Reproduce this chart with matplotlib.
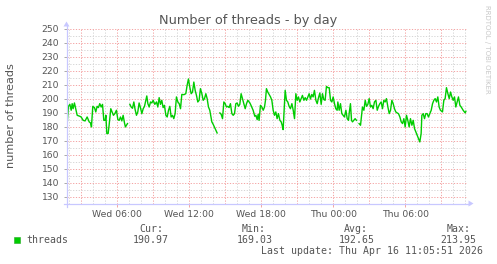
import matplotlib
matplotlib.use('Agg')
import matplotlib.pyplot as plt
from matplotlib.patches import Rectangle, Polygon
import numpy as np

# hours since Wed 00:00, 5-minute munin samples (nan = gap)
hours = [1.77, 1.93, 2.05, 2.16, 2.24, 2.32, 2.43, 2.54, 2.66, 2.88, 2.99, 3.16, 3.32, 3.49, 3.66,
         3.77, 3.85, 3.96, 4.10, 4.21, 4.32, 4.43, 4.54, 4.66, 4.77, 4.88, 4.99, 5.05, 5.13, 5.24,
         5.32, 5.46, 5.57, 5.68, 5.80, 5.93, 6.05, 6.16, 6.27, 6.38, 6.49, 6.60, 6.68, 6.85, 6.95,
         7.05, 7.16, 7.27, 7.38, 7.49, 7.60, 7.71, 7.82, 7.93, 8.05, 8.16, 8.27, 8.38, 8.46, 8.55,
         8.66, 8.77, 8.88, 8.99, 9.13, 9.27, 9.38, 9.49, 9.60, 9.71, 9.82, 9.93, 10.05, 10.16, 10.27,
         10.38, 10.49, 10.60, 10.71, 10.82, 10.93, 11.05, 11.16, 11.27, 11.38, 11.55, 11.71, 11.82, 11.93, 12.04,
         12.16, 12.27, 12.38, 12.49, 12.60, 12.71, 12.82, 12.93, 13.05, 13.16, 13.27, 13.38, 13.49, 13.60, 13.71,
         13.88, 13.99, 14.16, 14.32, 14.44, 14.55, 14.66, 14.77, 14.88, 14.99, 15.10, 15.21, 15.32, 15.43, 15.55,
         15.66, 15.77, 15.88, 15.99, 16.10, 16.21, 16.32, 16.43, 16.55, 16.66, 16.77, 16.88, 17.05, 17.18, 17.32,
         17.46, 17.55, 17.66, 17.74, 17.82, 17.93, 18.05, 18.16, 18.27, 18.35, 18.43, 18.54, 18.66, 18.77, 18.88,
         18.99, 19.10, 19.21, 19.32, 19.43, 19.55, 19.66, 19.74, 19.82, 19.93, 19.99, 20.10, 20.21, 20.32, 20.43,
         20.55, 20.66, 20.77, 20.88, 20.99, 21.10, 21.21, 21.32, 21.43, 21.55, 21.66, 21.77, 21.88, 21.99, 22.10,
         22.21, 22.32, 22.43, 22.55, 22.66, 22.77, 22.88, 22.99, 23.10, 23.21, 23.32, 23.43, 23.55, 23.66, 23.77,
         23.88, 23.99, 24.10, 24.21, 24.32, 24.38, 24.49, 24.60, 24.71, 24.82, 24.93, 25.05, 25.16, 25.27, 25.32,
         25.43, 25.52, 25.60, 25.71, 25.82, 25.93, 26.05, 26.15, 26.27, 26.43, 26.55, 26.66, 26.77, 26.88, 26.99,
         27.10, 27.21, 27.32, 27.43, 27.55, 27.66, 27.77, 27.88, 27.99, 28.10, 28.21, 28.32, 28.43, 28.55, 28.66,
         28.77, 28.88, 28.99, 29.10, 29.21, 29.32, 29.43, 29.55, 29.66, 29.77, 29.88, 29.99, 30.10, 30.21, 30.32,
         30.43, 30.55, 30.66, 30.77, 30.88, 30.99, 31.10, 31.21, 31.32, 31.38, 31.49, 31.60, 31.71, 31.82, 31.93,
         32.05, 32.16, 32.27, 32.38, 32.49, 32.60, 32.71, 32.82, 32.93, 33.10, 33.21, 33.32, 33.43, 33.55, 33.66,
         33.77, 33.88, 33.99, 34.10, 34.21, 34.32, 34.43, 34.55, 34.66, 34.82, 34.99, 35.05]
threads = [175.5, 194.5, 195.9, 191.7, 196.4, 192.8, 196.9, 192.8, 188.1, 187.4, 186.9, 184.5, 184.1, 186.9, 183.4,
           182.7, 179.8, 194.5, 193.6, 190.5, 194.5, 193.6, 196.4, 194.0, 195.9, 184.5, 184.5, 188.1, 175.1, 175.1,
           181.0, 192.8, 190.5, 188.1, 189.3, 191.7, 185.0, 184.5, 186.9, 184.1, 188.1, 182.7, 179.8, 182.2, np.nan,
           195.9, 194.0, 193.1, 197.6, 192.1, 188.1, 190.5, 196.9, 193.6, 189.3, 192.8, 194.5, 198.8, 201.9, 196.4,
           194.0, 197.6, 196.9, 198.8, 195.9, 197.6, 194.0, 200.7, 195.9, 198.8, 193.6, 195.2, 188.1, 186.9, 191.7,
           194.5, 186.9, 188.1, 185.7, 189.3, 201.2, 197.6, 196.4, 192.8, 203.0, 202.8, 203.5, 209.4, 214.0, 208.3,
           203.5, 204.7, 211.8, 205.9, 202.3, 197.6, 198.8, 207.1, 203.5, 198.8, 200.0, 203.5, 200.0, 194.0, 191.7,
           183.4, 181.7, 178.6, 175.5, np.nan, 189.8, 188.8, 185.7, 197.6, 196.4, 194.0, 194.5, 193.6, 196.4, 189.3,
           188.1, 189.3, 196.4, 196.9, 194.5, 195.9, 203.5, 200.0, 196.4, 192.8, 196.4, 198.8, 196.9, 194.5, 191.7,
           187.4, 188.1, 185.0, 188.8, 184.5, 195.2, 194.0, 191.7, 194.0, 198.8, 207.1, 204.7, 202.8, 201.2, 198.8,
           191.7, 188.1, 190.5, 185.7, 189.3, 184.5, 183.4, 181.0, 177.9, 196.4, 205.9, 198.8, 197.6, 194.5, 192.8,
           196.4, 191.7, 185.7, 203.5, 198.8, 201.2, 197.6, 200.0, 202.3, 198.8, 200.7, 198.8, 201.2, 203.5, 199.7,
           203.0, 201.2, 205.9, 198.8, 196.4, 200.7, 204.0, 195.9, 203.5, 199.3, 198.8, 208.7, 207.8, 207.8, 198.8,
           197.6, 201.2, 196.4, 192.8, 191.7, 197.6, 191.7, 196.4, 189.3, 188.1, 186.9, 191.7, 185.7, 184.5, 189.3,
           196.4, 184.5, 183.4, 184.5, 185.7, 184.5, np.nan, 182.2, 181.0, 194.0, 191.7, 198.8, 194.5, 195.9, 200.0,
           194.0, 195.2, 192.8, 197.6, 198.8, 191.7, 194.5, 196.4, 197.6, 192.8, 198.8, 197.6, 200.0, 194.0, 189.3,
           191.7, 198.8, 196.4, 192.8, 190.5, 189.8, 189.3, 186.9, 183.4, 182.2, 185.7, 179.8, 188.1, 184.5, 179.8,
           185.7, 181.0, 184.5, 178.6, 176.3, 173.9, 171.5, 169.1, 175.1, 188.1, 189.3, 185.7, 189.3, 189.3, 186.9,
           189.3, 191.7, 196.4, 198.8, 200.0, 197.6, 201.2, 194.0, 191.7, 190.5, 198.8, 200.0, 207.8, 203.5, 200.0,
           204.7, 201.2, 198.8, 201.2, 194.0, 197.6, 201.2, 195.2, 194.0, 191.7, 189.8, 191.0]

x_labels = ['Wed 06:00', 'Wed 12:00', 'Wed 18:00', 'Thu 00:00', 'Thu 06:00']
x_label_pos = [6, 12, 18, 24, 30]
y_ticks = [130, 140, 150, 160, 170, 180, 190, 200, 210, 220, 230, 240, 250]

stat_names = ['Cur:', 'Min:', 'Avg:', 'Max:']
stat_values = ['190.97', '169.03', '192.65', '213.95']
last_update = 'Last update: Thu Apr 16 11:05:51 2026'

W, H = 497, 264
TXT = '#555555'
AXC = '#c8c8ff'
GREEN = '#00cc00'
RED_GRID = '#f4a4a4'
GREY_GRID = '#d6d6d6'

fig = plt.figure(figsize=(W / 100, H / 100), dpi=100)
fig.patch.set_facecolor('white')

# plot area in pixels
px_left, px_top, px_w, px_h = 66.5, 28.5, 400, 175
ax = fig.add_axes([px_left / W, 1 - (px_top + px_h) / H, px_w / W, px_h / H])
ax.set_xlim(1.77, 35.10)
ax.set_ylim(125.2, 250.0)

# grid: hours (minor grey, every 3h red), 5 units (minor grey, every 10 red)
for h in range(2, 36):
    c = RED_GRID if h % 3 == 0 else GREY_GRID
    ax.axvline(h, color=c, lw=0.72, dashes=(1.2, 1.6), zorder=1)
for v in range(130, 251, 5):
    c = RED_GRID if v % 10 == 0 else GREY_GRID
    ax.axhline(v, color=c, lw=0.72, dashes=(1.2, 1.6), zorder=1)

ax.plot(hours, threads, color=GREEN, lw=1.0, zorder=3)

for s in ['top', 'right', 'left', 'bottom']:
    ax.spines[s].set_visible(False)

ax.set_yticks(y_ticks)
ax.set_yticklabels([str(v) for v in y_ticks])
ax.set_xticks(x_label_pos)
ax.set_xticklabels(x_labels)
ax.tick_params(axis='y', length=2, width=0.7, color='#aaaaaa', pad=3.2, labelsize=6.6, labelcolor=TXT)
ax.tick_params(axis='x', length=2, width=0.7, color=RED_GRID, pad=2.5, labelsize=6.7, labelcolor=TXT)

# overlay in pixel coordinates for axis arrows and legend text
ov = fig.add_axes([0, 0, 1, 1], facecolor='none')
ov.set_xlim(0, W)
ov.set_ylim(H, 0)
ov.axis('off')

ov.plot([px_left, px_left], [px_top + px_h + 3, px_top - 3], color=AXC, lw=0.9)
ov.plot([px_left - 3, px_left + px_w + 3], [px_top + px_h, px_top + px_h], color=AXC, lw=0.9)
ov.add_patch(Polygon([[px_left - 3, px_top - 2], [px_left + 3, px_top - 2], [px_left, px_top - 7]],
                     closed=True, color=AXC, lw=0))
ov.add_patch(Polygon([[px_left + px_w + 2, px_top + px_h - 3], [px_left + px_w + 2, px_top + px_h + 3],
                      [px_left + px_w + 7, px_top + px_h]], closed=True, color=AXC, lw=0))

ov.text(248, 24, 'Number of threads - by day', fontsize=9.3, color=TXT, ha='center', va='baseline')
ov.text(11, px_top + px_h / 2, 'number of threads', fontsize=8.1, color=TXT, rotation=90,
        ha='center', va='center')
ov.text(487, 5, 'RRDTOOL / TOBI OETIKER', fontsize=5, color='#c8c8c8', rotation=-90,
        ha='center', va='top')

mono = 'DejaVu Sans Mono'
ov.add_patch(Rectangle((13.7, 236.7), 6, 6, facecolor=GREEN, edgecolor='#22aa22', lw=0.4))
ov.text(26.7, 243, 'threads', fontsize=7.1, family=mono, color=TXT, ha='left', va='baseline')

name_right = [163.3, 265.7, 368.3, 470.7]
value_right = [168.3, 272.3, 375.0, 476.7]
for nm, val, nr, vr in zip(stat_names, stat_values, name_right, value_right):
    ov.text(nr, 232, nm, fontsize=7.1, family=mono, color=TXT, ha='right', va='baseline')
    ov.text(vr, 243, val, fontsize=7.1, family=mono, color=TXT, ha='right', va='baseline')
ov.text(482.7, 254.5, last_update, fontsize=7.1, family=mono, color=TXT, ha='right', va='baseline')

fig.savefig('out.png', dpi=100)
